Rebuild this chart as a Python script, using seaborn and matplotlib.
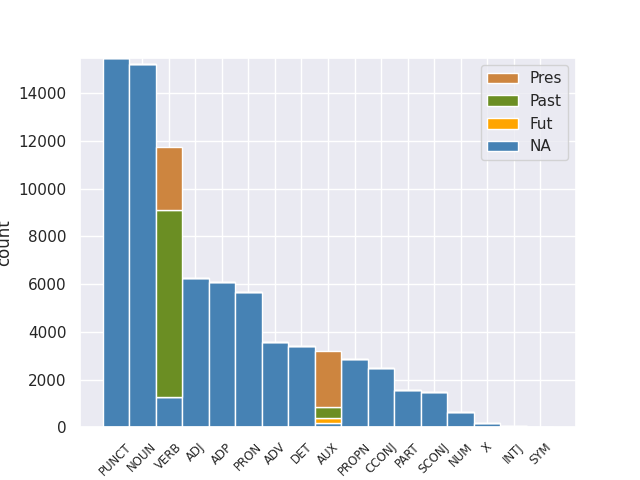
import matplotlib
matplotlib.use("Agg")
import matplotlib.pyplot as plt
import seaborn as sns
import pandas as pd

categories = ["PUNCT", "NOUN", "VERB", "ADJ", "ADP", "PRON", "ADV", "DET", "AUX",
              "PROPN", "CCONJ", "PART", "SCONJ", "NUM", "X", "INTJ", "SYM"]
tenses = ["Pres", "Past", "Fut", "NA"]
na_counts   = [15500, 15220, 1280, 6270, 6100, 5680, 3580, 3400, 180,
               2860, 2500, 1560, 1470, 620, 170, 60, 20]
pres_counts = [0, 0, 2650, 0, 0, 0, 0, 0, 2340, 0, 0, 0, 0, 0, 0, 0, 0]
past_counts = [0, 0, 7820, 0, 0, 0, 0, 0, 490, 0, 0, 0, 0, 0, 0, 0, 0]
fut_counts  = [0, 0, 0, 0, 0, 0, 0, 0, 190, 0, 0, 0, 0, 0, 0, 0, 0]
colors = {"Pres": "#CD853F", "Past": "#6B8E23", "Fut": "#FFA500", "NA": "#4682B4"}

rows = []
series = {"Pres": pres_counts, "Past": past_counts, "Fut": fut_counts, "NA": na_counts}
for t in ["NA", "Fut", "Past", "Pres"]:
    for c, v in zip(categories, series[t]):
        rows.append({"upos": c, "Tense": t, "n": v})
df = pd.DataFrame(rows)
df["upos"] = pd.Categorical(df["upos"], categories=categories, ordered=True)

sns.set_theme(style="darkgrid")
fig, ax = plt.subplots(figsize=(6.4, 4.8), dpi=100)
sns.histplot(data=df, x="upos", hue="Tense", weights="n", discrete=True,
             multiple="stack", hue_order=tenses, palette=colors, alpha=1,
             edgecolor="white", linewidth=1, shrink=1, ax=ax)
ax.set_ylim(0, 15500)
ax.set_xlabel("")
ax.set_ylabel("count")
ax.tick_params(axis="x", rotation=45, labelsize=8.5)
sns.move_legend(ax, "upper right", title=None)
fig.savefig("out.png", dpi=100)
